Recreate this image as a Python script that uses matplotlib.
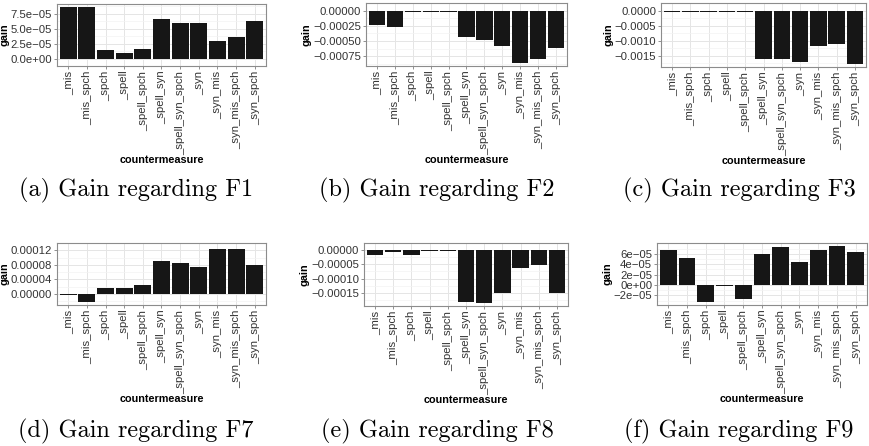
import matplotlib

matplotlib.use("Agg")
import matplotlib.pyplot as plt
import numpy as np

# categories shared by all six panels
categories = ["_mis", "_mis_spch", "_spch", "_spell", "_spell_spch", "_spell_syn",
              "_spell_syn_spch", "_syn", "_syn_mis", "_syn_mis_spch", "_syn_spch"]

# gain per countermeasure
gain_f1 = [8.73e-05, 8.73e-05, 1.49e-05, 0.87e-05, 1.64e-05, 6.72e-05,
           5.95e-05, 5.95e-05, 3.03e-05, 3.64e-05, 6.26e-05]
gain_f2 = [-0.000244, -0.000264, -0.000018, -0.000018, -0.000018, -0.000441,
           -0.000477, -0.000578, -0.000867, -0.000796, -0.000614]
gain_f3 = [-0.000035, -0.000035, -0.000035, -0.000035, -0.000035, -0.001594,
           -0.001594, -0.001718, -0.00116, -0.001097, -0.00178]
gain_f7 = [-0.0000025, -0.0000228, 0.0000169, 0.0000169, 0.0000254, 0.0000905,
           0.0000854, 0.0000736, 0.0001243, 0.0001243, 0.0000786]
gain_f8 = [-0.0000174, -0.0000065, -0.0000174, -0.000002, -0.0000043, -0.0001837,
           -0.000187, -0.000151, -0.000063, -0.0000533, -0.000151]
gain_f9 = [6.81e-05, 5.13e-05, -3.31e-05, -0.25e-05, -2.75e-05, 5.94e-05,
           7.25e-05, 4.38e-05, 6.81e-05, 7.56e-05, 6.44e-05]

# y ticks and their labels as printed
ticks_f1 = [0, 2.5e-05, 5e-05, 7.5e-05]
labels_f1 = ["0.0e+00", "2.5e\u221205", "5.0e\u221205", "7.5e\u221205"]
ticks_f2 = [0, -0.00025, -0.0005, -0.00075]
labels_f2 = ["0.00000", "\u22120.00025", "\u22120.00050", "\u22120.00075"]
ticks_f3 = [0, -0.0005, -0.001, -0.0015]
labels_f3 = ["0.0000", "\u22120.0005", "\u22120.0010", "\u22120.0015"]
ticks_f7 = [0, 0.00004, 0.00008, 0.00012]
labels_f7 = ["0.00000", "0.00004", "0.00008", "0.00012"]
ticks_f8 = [0, -0.00005, -0.0001, -0.00015]
labels_f8 = ["0.00000", "\u22120.00005", "\u22120.00010", "\u22120.00015"]
ticks_f9 = [-2e-05, 0, 2e-05, 4e-05, 6e-05]
labels_f9 = ["\u22122e\u221205", "0e+00", "2e\u221205", "4e\u221205", "6e\u221205"]

captions = ["(a) Gain regarding F1", "(b) Gain regarding F2", "(c) Gain regarding F3",
            "(d) Gain regarding F7", "(e) Gain regarding F8", "(f) Gain regarding F9"]

W, H = 870, 446
fig = plt.figure(figsize=(W / 100, H / 100), dpi=100)

# panel boxes in pixels: left, top, right, bottom
boxes = [(57, 4, 266, 66), (366, 3, 567, 66), (661, 3, 866, 67),
         (57, 243, 266, 305), (364, 243, 568, 306), (657, 243, 867, 305)]
caption_pos = [(136, 190), (437, 190), (739, 190), (136, 431), (437, 431), (739, 431)]

panels = [(gain_f1, ticks_f1, labels_f1), (gain_f2, ticks_f2, labels_f2),
          (gain_f3, ticks_f3, labels_f3), (gain_f7, ticks_f7, labels_f7),
          (gain_f8, ticks_f8, labels_f8), (gain_f9, ticks_f9, labels_f9)]

text_col = "#333333"
x = np.arange(len(categories))

for (vals, yt, ylab), (l, t, r, b), cap, (cx, cy) in zip(panels, boxes, captions, caption_pos):
    ax = fig.add_axes([l / W, 1 - b / H, (r - l) / W, (b - t) / H])
    ax.set_axisbelow(True)
    ax.bar(x, vals, width=0.9, color="#161616", zorder=2)

    # ggplot-like expansion of the range
    lo, hi = min(min(vals), 0), max(max(vals), 0)
    pad = (hi - lo) * 0.05
    ax.set_ylim(lo - pad, hi + pad)
    ax.set_xlim(-0.6, len(categories) - 0.4)

    ax.set_yticks(yt)
    ax.set_yticklabels(ylab)
    step = abs(yt[1] - yt[0])
    lo_t, hi_t = min(yt), max(yt)
    minor = np.arange(lo_t - step / 2, hi_t + step, step)
    ax.set_yticks(minor, minor=True)
    ax.set_xticks(x)
    ax.set_xticklabels(categories, rotation=90, ha="center", va="top")

    ax.grid(True, which="major", color="#e5e5e5", linewidth=0.7, zorder=0)
    ax.grid(True, which="minor", axis="y", color="#f3f3f3", linewidth=0.5, zorder=0)
    ax.tick_params(axis="both", which="major", length=2.5, width=0.6, color="#7f7f7f",
                   labelsize=8.2, labelcolor=text_col, pad=1)
    ax.tick_params(axis="y", which="minor", length=0)
    for lab in ax.get_xticklabels() + ax.get_yticklabels():
        lab.set_fontfamily("Liberation Sans")
    for sp in ax.spines.values():
        sp.set_color("#8c8c8c")
        sp.set_linewidth(0.8)

    ax.set_xlabel("countermeasure", fontsize=7.8, fontweight="bold",
                  fontfamily="Liberation Sans", labelpad=0.5)
    ax.set_ylabel("gain", fontsize=7.8, fontweight="bold",
                  fontfamily="Liberation Sans", labelpad=1)

    fig.text(cx / W, 1 - cy / H, cap, ha="center", va="center",
             fontsize=17.5, fontfamily="cmr10")

fig.savefig("out.png", dpi=100)
